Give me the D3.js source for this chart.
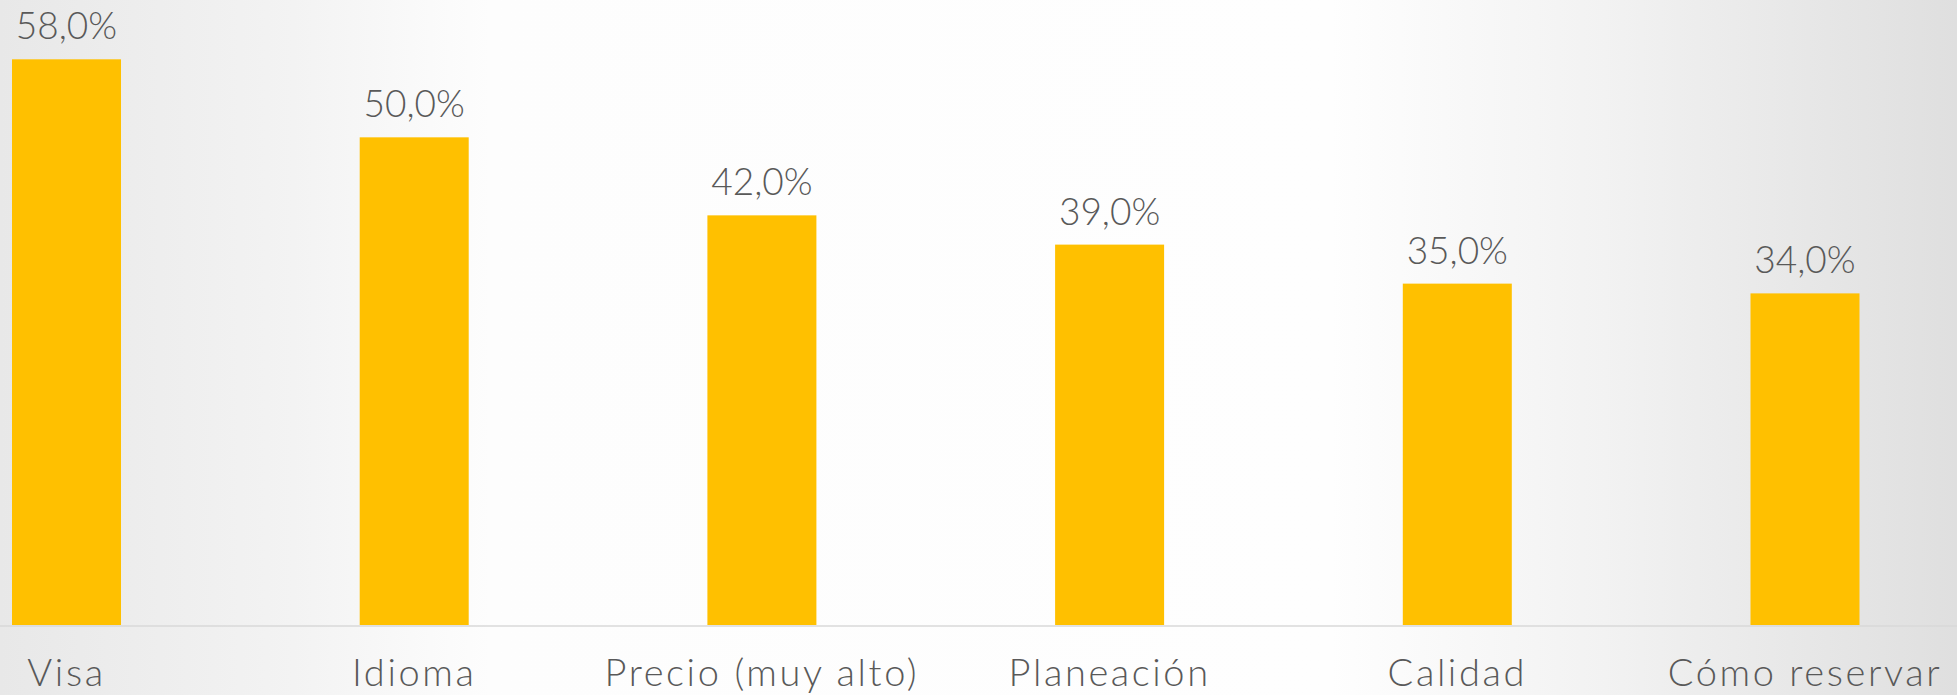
<!DOCTYPE html>
<html>
<head>
<meta charset="utf-8">
<script src="https://cdn.jsdelivr.net/npm/d3@7"></script>
<style>
  html, body { margin: 0; padding: 0; overflow: hidden; }
  svg { display: block; }
</style>
</head>
<body>
<svg id="chart" width="1957" height="695"></svg>
<script>
const categories = ["Visa", "Idioma", "Precio (muy alto)", "Planeación", "Calidad", "Cómo reservar"];
const values = [58.0, 50.0, 42.0, 39.0, 35.0, 34.0];
const valueLabels = ["58,0%", "50,0%", "42,0%", "39,0%", "35,0%", "34,0%"];

const W = 1957, H = 695;
const svg = d3.select("#chart");

const defs = svg.append("defs");
const grad = defs.append("linearGradient").attr("id", "bg").attr("x1", "0").attr("x2", "1").attr("y1", "0").attr("y2", "0");
[[0, "#e8e8e8"], [0.15, "#f3f3f3"], [0.25, "#fdfdfd"], [0.68, "#fefefe"], [0.82, "#f2f2f2"], [1, "#dfdfdf"]]
  .forEach(([o, c]) => grad.append("stop").attr("offset", o).attr("stop-color", c));
svg.append("rect").attr("width", W).attr("height", H).attr("fill", "url(#bg)");

const x = d3.scaleBand().domain(categories).range([12, 1859.5]).paddingInner(0.6865).paddingOuter(0);
const y = d3.scaleLinear().domain([0, 58]).range([625, 59.3]);

const data = categories.map((c, i) => ({ c, v: values[i], l: valueLabels[i] }));

svg.append("g").selectAll("rect").data(data).join("rect")
  .attr("x", d => x(d.c))
  .attr("y", d => y(d.v))
  .attr("width", x.bandwidth())
  .attr("height", d => y(0) - y(d.v))
  .attr("fill", "#FFC000");

svg.append("line").attr("x1", 0).attr("x2", W).attr("y1", 626).attr("y2", 626)
  .attr("stroke", "#d9d9d9").attr("stroke-width", 1.5);

const font = "Lato, 'Noto Sans', sans-serif";

svg.append("g").selectAll("text").data(data).join("text")
  .attr("x", d => x(d.c) + x.bandwidth() / 2)
  .attr("y", d => y(d.v) - 20)
  .attr("text-anchor", "middle")
  .attr("font-family", font)
  .attr("font-weight", 300)
  .attr("font-size", 37)
  .attr("fill", "#595959")
  .text(d => d.l);

const xAxis = d3.axisBottom(x).tickSize(0).tickPadding(0);
const ax = svg.append("g").attr("transform", "translate(0,626)").call(xAxis);
ax.select(".domain").remove();
ax.selectAll("text")
  .attr("y", 60)
  .attr("dy", 0)
  .attr("font-family", font)
  .attr("font-weight", 300)
  .attr("font-size", 38)
  .attr("letter-spacing", 2.6)
  .attr("fill", "#595959");
</script>
</body>
</html>
